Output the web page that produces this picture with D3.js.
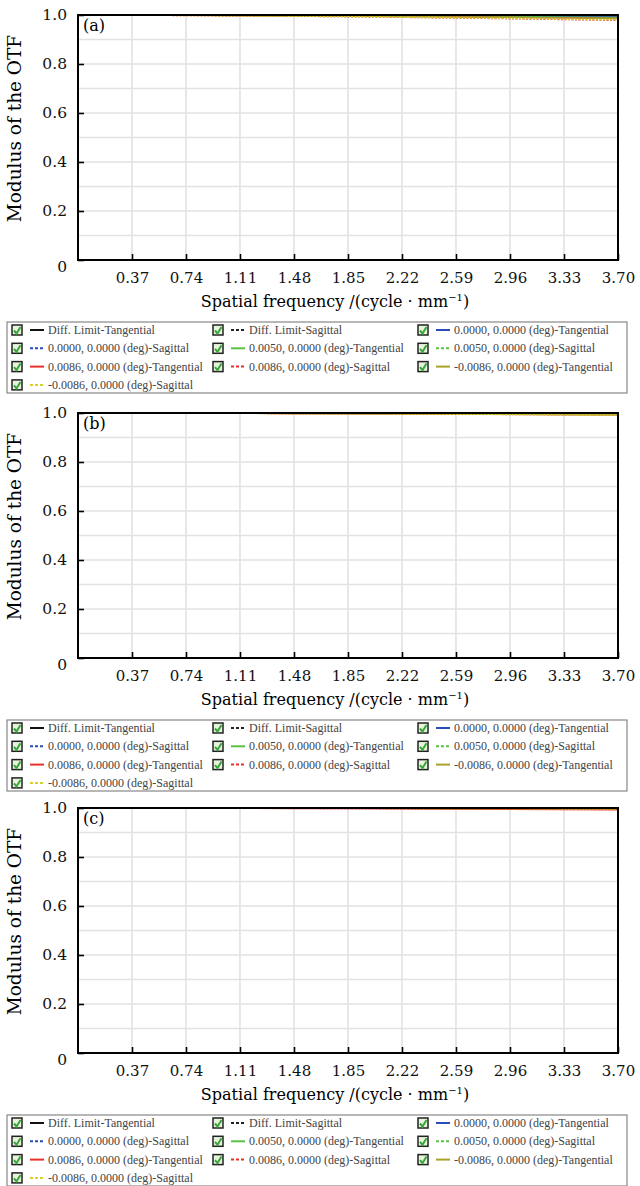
<!DOCTYPE html>
<html>
<head>
<meta charset="utf-8">
<script src="https://cdn.jsdelivr.net/npm/d3@7"></script>
<style>
  body { margin: 0; background: #fff; }
  svg { display: block; }
</style>
</head>
<body>
<div id="content"></div>
<script>
// data
const freq = [0, 0.37, 0.74, 1.11, 1.48, 1.85, 2.22, 2.59, 2.96, 3.33, 3.70]
const xTickLabels = ["0.37", "0.74", "1.11", "1.48", "1.85", "2.22", "2.59", "2.96", "3.33", "3.70"]
const yTicks = [0, 0.2, 0.4, 0.6, 0.8, 1.0]
const panelNames = ["(a)", "(b)", "(c)"]

const seriesNames = [
  "Diff. Limit-Tangential", "Diff. Limit-Sagittal", "0.0000, 0.0000 (deg)-Tangential",
  "0.0000, 0.0000 (deg)-Sagittal", "0.0050, 0.0000 (deg)-Tangential", "0.0050, 0.0000 (deg)-Sagittal",
  "0.0086, 0.0000 (deg)-Tangential", "0.0086, 0.0000 (deg)-Sagittal", "-0.0086, 0.0000 (deg)-Tangential",
  "-0.0086, 0.0000 (deg)-Sagittal"
]
const seriesColors = ["#111111", "#222222", "#2a4cb8", "#2a4cb8", "#5cc242", "#5cc242",
                      "#e8302a", "#e8302a", "#a8a22a", "#d8cf2e"]
const seriesDashed = [false, true, false, true, false, true, false, true, false, true]

// panel (a)
const valuesA = [
  [1, .9998, .9996, .9994, .9992, .999, .9988, .9986, .9984, .9982, .998],
  [1, .9998, .9996, .9994, .9992, .999, .9988, .9986, .9984, .9982, .998],
  [1, .9997, .9994, .999, .9985, .998, .9974, .9967, .996, .995, .994],
  [1, .9996, .9992, .9986, .998, .9973, .9965, .9955, .9945, .9932, .992],
  [1, .9996, .999, .9983, .9975, .9966, .9956, .9944, .993, .9915, .99],
  [1, .9995, .9988, .998, .997, .996, .9947, .9932, .9915, .9895, .988],
  [1, .9995, .9987, .9978, .9967, .9955, .994, .9923, .9904, .9883, .986],
  [1, .999, .998, .9966, .995, .993, .9905, .9878, .9848, .9815, .978],
  [1, .9995, .9987, .9978, .9967, .9955, .994, .9923, .9904, .9883, .986],
  [1, .9992, .998, .9967, .995, .9932, .991, .9886, .986, .983, .98]
]
// panel (b)
const valuesB = [
  [1, .9998, .9996, .9994, .9992, .999, .9988, .9986, .9984, .9982, .998],
  [1, .9998, .9996, .9994, .9992, .999, .9988, .9986, .9984, .9982, .998],
  [1, .9998, .9995, .9992, .9988, .9984, .998, .9975, .997, .9964, .9958],
  [1, .9997, .9994, .999, .9986, .9981, .9975, .9969, .9962, .9955, .9948],
  [1, .9997, .9994, .999, .9985, .998, .9974, .9967, .996, .9952, .9944],
  [1, .9997, .9993, .9988, .9983, .9977, .997, .9962, .9954, .9945, .9936],
  [1, .9997, .9993, .9988, .9982, .9975, .9967, .9958, .9948, .9937, .9926],
  [1, .9996, .9992, .9986, .9979, .9971, .9962, .9952, .994, .9928, .9915],
  [1, .9997, .9993, .9988, .9982, .9975, .9967, .9958, .9948, .9937, .9926],
  [1, .9996, .9991, .9985, .9978, .997, .996, .995, .9938, .9925, .991]
]
// panel (c)
const valuesC = [
  [1, .9998, .9996, .9994, .9992, .999, .9988, .9986, .9984, .9982, .998],
  [1, .9998, .9996, .9994, .9992, .999, .9988, .9986, .9984, .9982, .998],
  [1, .9998, .9996, .9994, .9992, .999, .9988, .9986, .9984, .9982, .998],
  [1, .9998, .9996, .9993, .999, .9987, .9984, .998, .9976, .9972, .9968],
  [1, .9998, .9996, .9993, .999, .9987, .9984, .998, .9976, .9972, .9968],
  [1, .9998, .9995, .9992, .9989, .9985, .9981, .9977, .9972, .9967, .9962],
  [1, .9997, .9993, .9988, .9982, .9975, .9967, .9958, .9948, .9937, .9925],
  [1, .9997, .9994, .999, .9985, .998, .9974, .9968, .9961, .9953, .9945],
  [1, .9998, .9996, .9993, .999, .9987, .9984, .998, .9976, .9972, .9968],
  [1, .9998, .9996, .9993, .999, .9987, .9984, .998, .9976, .9972, .9968]
]
const panelValues = [valuesA, valuesB, valuesC]

const outerWidth = 640
const outerHeight = 1186
const panelOffsets = [0, 398, 793]
const margin = {top: 15, left: 78}
const width = 540
const height = 245
const serif = "DejaVu Serif, serif"

const svg = d3.select("#content").append("svg")
    .attr("width", outerWidth)
    .attr("height", outerHeight)

const xScale = d3.scaleLinear().domain([0, 3.7]).range([0, width])
const yScale = d3.scaleLinear().domain([0, 1]).range([height, 0])

const line = d3.line()
    .x((d, i) => xScale(freq[i]))
    .y(d => yScale(d))

panelValues.forEach((values, p) => {
  const g = svg.append("g")
      .attr("transform", `translate(${margin.left}, ${margin.top + panelOffsets[p]})`)

  // grid
  g.append("g").selectAll("line")
    .data(d3.range(1, 10).map(v => v / 10))
    .join("line")
      .attr("x1", 0).attr("x2", width)
      .attr("y1", d => yScale(d)).attr("y2", d => yScale(d))
      .style("stroke", "#e2e2e2").style("stroke-width", 1.6)
  g.append("g").selectAll("line")
    .data(freq.slice(1, -1))
    .join("line")
      .attr("x1", d => xScale(d)).attr("x2", d => xScale(d))
      .attr("y1", 0).attr("y2", height)
      .style("stroke", "#e2e2e2").style("stroke-width", 1.6)

  // axes
  const xAxis = d3.axisBottom(xScale)
      .tickValues(freq.slice(1))
      .tickFormat((d, i) => xTickLabels[i])
      .tickSizeInner(-6).tickSizeOuter(0).tickPadding(12)
  const gx = g.append("g")
      .attr("transform", `translate(0, ${height})`)
      .call(xAxis)
  gx.select(".domain").remove()
  gx.selectAll(".tick line").style("stroke", "#000").style("stroke-width", 1.6)
  gx.selectAll(".tick text")
      .style("font-family", serif).style("font-size", "15px").style("fill", "#111")

  const yAxis = d3.axisLeft(yScale)
      .tickValues(yTicks)
      .tickFormat(d => d === 0 ? "0" : d3.format(".1f")(d))
      .tickSizeInner(-6).tickSizeOuter(0).tickPadding(11)
  const gy = g.append("g").call(yAxis)
  gy.select(".domain").remove()
  gy.selectAll(".tick line").style("stroke", "#000").style("stroke-width", 1.6)
  gy.selectAll(".tick text")
      .style("font-family", serif).style("font-size", "15.5px").style("fill", "#111")
      .attr("dy", d => d === 0 ? "0.75em" : "0.32em")

  // curves
  g.append("g").selectAll("path")
    .data(values)
    .join("path")
      .attr("d", line)
      .style("fill", "none")
      .style("stroke", (d, i) => seriesColors[i])
      .style("stroke-width", 1.4)
      .style("stroke-dasharray", (d, i) => seriesDashed[i] ? "2,1.5" : null)

  // frame
  g.append("rect")
      .attr("width", width).attr("height", height)
      .style("fill", "none").style("stroke", "#000").style("stroke-width", 2)

  g.append("text")
      .attr("x", 5).attr("y", 16)
      .style("font-family", serif).style("font-size", "16px")
      .text(panelNames[p])

  // axis labels
  g.append("text")
      .attr("x", 257).attr("y", height + 47)
      .attr("text-anchor", "middle")
      .style("font-family", serif).style("font-size", "16px")
      .html("Spatial frequency /(cycle · mm<tspan dy='-6' font-size='10px'>−1</tspan><tspan dy='6'>)</tspan>")
  g.append("text")
      .attr("transform", `translate(-57, ${height / 2 - 9}) rotate(-90)`)
      .attr("text-anchor", "middle")
      .style("font-family", serif).style("font-size", "18.5px")
      .text("Modulus of the OTF")

  // legend
  const lg = g.append("g").attr("transform", `translate(${7 - margin.left}, ${height + 62})`)
  lg.append("rect")
      .attr("width", 620).attr("height", 71)
      .style("fill", "#fff").style("stroke", "#888").style("stroke-width", 1.2)
  const colX = [5, 206, 411]
  const item = lg.selectAll("g.item")
    .data(seriesNames)
    .join("g")
      .attr("class", "item")
      .attr("transform", (d, i) => `translate(${colX[i % 3]}, ${4 + Math.floor(i / 3) * 18.3})`)
  item.append("rect")
      .attr("width", 10).attr("height", 10).attr("y", -1)
      .style("fill", "#e6f4dc").style("stroke", "#222").style("stroke-width", 1.5)
  item.append("path")
      .attr("d", "M2,4.5 L4.5,7.5 L8.5,1")
      .style("fill", "none").style("stroke", "#3aa53a").style("stroke-width", 2)
  item.append("line")
      .attr("x1", 18).attr("x2", 32).attr("y1", 4).attr("y2", 4)
      .style("stroke", (d, i) => seriesColors[i])
      .style("stroke-width", 2)
      .style("stroke-dasharray", (d, i) => seriesDashed[i] ? "3,2" : null)
  item.append("text")
      .attr("x", 36).attr("y", 8)
      .style("font-family", "Liberation Serif, serif").style("font-size", "12px")
      .style("fill", "#444")
      .text(d => d)
})
</script>
</body>
</html>
